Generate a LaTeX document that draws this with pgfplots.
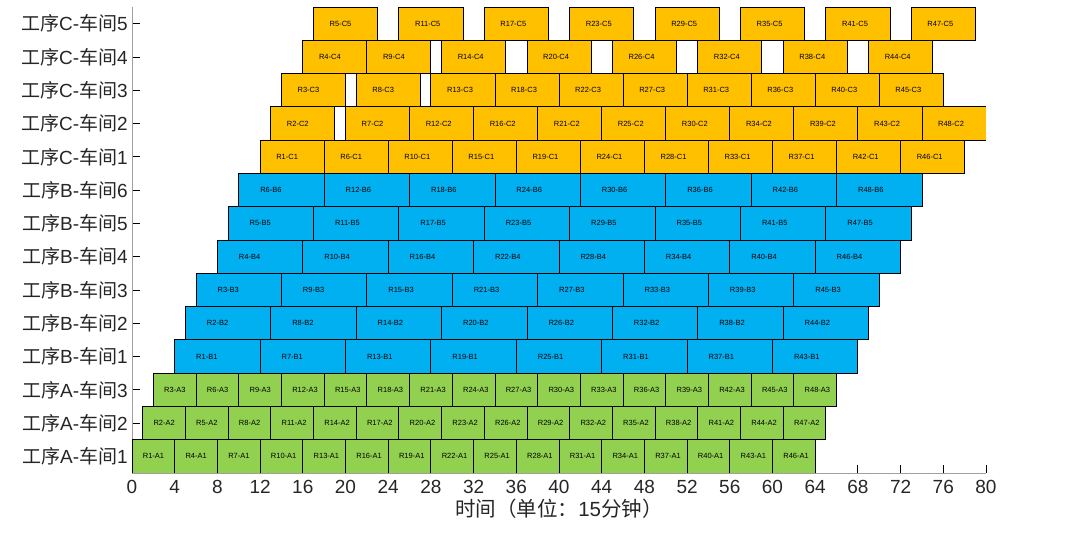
\documentclass[border=0pt]{standalone}
\usepackage{pgfplots}
\pgfplotsset{compat=1.18}
\usepackage{pgfplotstable}
\usepackage{fontspec}
\setmainfont{Liberation Sans}
\newfontfamily\cjk{Noto Sans CJK SC}
\newcommand\zh[1]{{\cjk #1}}
\definecolor{colA}{RGB}{146,208,80}
\definecolor{colB}{RGB}{0,176,240}
\definecolor{colC}{RGB}{255,192,0}
\definecolor{axgray}{RGB}{160,160,160}
\definecolor{txt}{RGB}{38,38,38}

% row: 1-3 = A1-A3, 4-9 = B1-B6, 10-14 = C1-C5 ; start, end in units of 15 min
\pgfplotstableread{
row start end lab
1 0 4 R1-A1
1 4 8 R4-A1
1 8 12 R7-A1
1 12 16 R10-A1
1 16 20 R13-A1
1 20 24 R16-A1
1 24 28 R19-A1
1 28 32 R22-A1
1 32 36 R25-A1
1 36 40 R28-A1
1 40 44 R31-A1
1 44 48 R34-A1
1 48 52 R37-A1
1 52 56 R40-A1
1 56 60 R43-A1
1 60 64 R46-A1
2 1 5 R2-A2
2 5 9 R5-A2
2 9 13 R8-A2
2 13 17 R11-A2
2 17 21 R14-A2
2 21 25 R17-A2
2 25 29 R20-A2
2 29 33 R23-A2
2 33 37 R26-A2
2 37 41 R29-A2
2 41 45 R32-A2
2 45 49 R35-A2
2 49 53 R38-A2
2 53 57 R41-A2
2 57 61 R44-A2
2 61 65 R47-A2
3 2 6 R3-A3
3 6 10 R6-A3
3 10 14 R9-A3
3 14 18 R12-A3
3 18 22 R15-A3
3 22 26 R18-A3
3 26 30 R21-A3
3 30 34 R24-A3
3 34 38 R27-A3
3 38 42 R30-A3
3 42 46 R33-A3
3 46 50 R36-A3
3 50 54 R39-A3
3 54 58 R42-A3
3 58 62 R45-A3
3 62 66 R48-A3
}\tasksA

\pgfplotstableread{
row start end lab
4 4 12 R1-B1
4 12 20 R7-B1
4 20 28 R13-B1
4 28 36 R19-B1
4 36 44 R25-B1
4 44 52 R31-B1
4 52 60 R37-B1
4 60 68 R43-B1
5 5 13 R2-B2
5 13 21 R8-B2
5 21 29 R14-B2
5 29 37 R20-B2
5 37 45 R26-B2
5 45 53 R32-B2
5 53 61 R38-B2
5 61 69 R44-B2
6 6 14 R3-B3
6 14 22 R9-B3
6 22 30 R15-B3
6 30 38 R21-B3
6 38 46 R27-B3
6 46 54 R33-B3
6 54 62 R39-B3
6 62 70 R45-B3
7 8 16 R4-B4
7 16 24 R10-B4
7 24 32 R16-B4
7 32 40 R22-B4
7 40 48 R28-B4
7 48 56 R34-B4
7 56 64 R40-B4
7 64 72 R46-B4
8 9 17 R5-B5
8 17 25 R11-B5
8 25 33 R17-B5
8 33 41 R23-B5
8 41 49 R29-B5
8 49 57 R35-B5
8 57 65 R41-B5
8 65 73 R47-B5
9 10 18 R6-B6
9 18 26 R12-B6
9 26 34 R18-B6
9 34 42 R24-B6
9 42 50 R30-B6
9 50 58 R36-B6
9 58 66 R42-B6
9 66 74 R48-B6
}\tasksB

\pgfplotstableread{
row start end lab
10 12 18 R1-C1
10 18 24 R6-C1
10 24 30 R10-C1
10 30 36 R15-C1
10 36 42 R19-C1
10 42 48 R24-C1
10 48 54 R28-C1
10 54 60 R33-C1
10 60 66 R37-C1
10 66 72 R42-C1
10 72 78 R46-C1
11 13 19 R2-C2
11 20 26 R7-C2
11 26 32 R12-C2
11 32 38 R16-C2
11 38 44 R21-C2
11 44 50 R25-C2
11 50 56 R30-C2
11 56 62 R34-C2
11 62 68 R39-C2
11 68 74 R43-C2
11 74 80 R48-C2
12 14 20 R3-C3
12 21 27 R8-C3
12 28 34 R13-C3
12 34 40 R18-C3
12 40 46 R22-C3
12 46 52 R27-C3
12 52 58 R31-C3
12 58 64 R36-C3
12 64 70 R40-C3
12 70 76 R45-C3
13 16 22 R4-C4
13 22 28 R9-C4
13 29 35 R14-C4
13 37 43 R20-C4
13 45 51 R26-C4
13 53 59 R32-C4
13 61 67 R38-C4
13 69 75 R44-C4
14 17 23 R5-C5
14 25 31 R11-C5
14 33 39 R17-C5
14 41 47 R23-C5
14 49 55 R29-C5
14 57 63 R35-C5
14 65 71 R41-C5
14 73 79 R47-C5
}\tasksC

\newcommand\ganttbars[2]{%
  \pgfplotstablegetrowsof{#1}%
  \pgfmathtruncatemacro\gN{\pgfplotsretval-1}%
  \pgfplotsforeachungrouped \gi in {0,...,\gN}{%
    \pgfplotstablegetelem{\gi}{row}\of{#1}\let\gRow\pgfplotsretval
    \pgfplotstablegetelem{\gi}{start}\of{#1}\let\gStart\pgfplotsretval
    \pgfplotstablegetelem{\gi}{end}\of{#1}\let\gEnd\pgfplotsretval
    \pgfmathsetmacro\gLo{\gRow-0.5}%
    \pgfmathsetmacro\gHi{\gRow+0.5}%
    \edef\gCmd{\noexpand\addplot[fill=#2,draw=black,line width=0.8pt,forget plot]
      coordinates {(\gStart,\gLo) (\gEnd,\gLo) (\gEnd,\gHi) (\gStart,\gHi)} -- cycle;}%
    \gCmd
  }%
}

\newcommand\ganttlabels[1]{%
  \addplot[only marks, mark=*, mark size=0pt, mark options={draw=none,fill=none},
    nodes near coords, point meta=explicit symbolic, nodes near coords align=west,
    every node near coord/.append style={font=\fontsize{7.5}{8}\selectfont, inner sep=0pt, text=black},
    forget plot]
    table[x expr={\thisrow{start}+(\thisrow{end}-\thisrow{start})/4}, y=row, meta=lab] {#1};
}

\begin{document}
\begin{tikzpicture}
\begin{axis}[
  at={(132pt,71pt)}, anchor=south west, scale only axis,
  width=854pt, height=466pt,
  xmin=0, xmax=80, ymin=0.5, ymax=14.5,
  axis x line*=bottom, axis y line*=left,
  axis line style={axgray, line width=0.8pt},
  xtick={0,4,...,80}, ytick={1,...,14},
  yticklabels={
    {\zh{工序}A-\zh{车间}1},{\zh{工序}A-\zh{车间}2},{\zh{工序}A-\zh{车间}3},
    {\zh{工序}B-\zh{车间}1},{\zh{工序}B-\zh{车间}2},{\zh{工序}B-\zh{车间}3},
    {\zh{工序}B-\zh{车间}4},{\zh{工序}B-\zh{车间}5},{\zh{工序}B-\zh{车间}6},
    {\zh{工序}C-\zh{车间}1},{\zh{工序}C-\zh{车间}2},{\zh{工序}C-\zh{车间}3},
    {\zh{工序}C-\zh{车间}4},{\zh{工序}C-\zh{车间}5}},
  tick align=inside, major tick length=8pt,
  tick style={black, line width=0.8pt},
  /pgf/number format/assume math mode=true,
  x tick label style={font=\fontsize{19}{19}\selectfont, text=txt, yshift=-4pt},
  y tick label style={font=\fontsize{19}{19}\selectfont, text=txt, inner sep=4pt},
  xlabel={\zh{时间（单位：}15\zh{分钟）}},
  xlabel style={font=\fontsize{20.5}{20.5}\selectfont, text=txt, yshift=2pt},
]
\ganttbars{\tasksA}{colA}
\ganttbars{\tasksB}{colB}
\ganttbars{\tasksC}{colC}
\ganttlabels{\tasksA}
\ganttlabels{\tasksB}
\ganttlabels{\tasksC}
\end{axis}
\pgfresetboundingbox
\useasboundingbox (0,0) rectangle (1072pt,544pt);
\end{tikzpicture}
\end{document}
